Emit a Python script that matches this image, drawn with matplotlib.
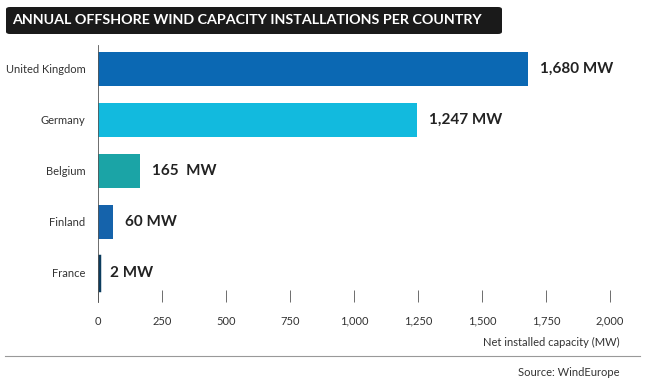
import matplotlib.pyplot as plt
from matplotlib.patches import FancyBboxPatch

countries = ['United Kingdom', 'Germany', 'Belgium', 'Finland', 'France']
capacity = [1680, 1247, 165, 60, 2]
labels = ['1,680 MW', '1,247 MW', '165  MW', '60 MW', '2 MW']
colors = ['#0b68b3', '#12bade', '#1ba4a6', '#1563ab', '#0c3c5e']
ticks = [0, 250, 500, 750, 1000, 1250, 1500, 1750, 2000]
tick_labels = ['0', '250', '500', '750', '1,000', '1,250', '1,500', '1,750', '2,000']

plt.rcParams['font.family'] = ['Lato', 'DejaVu Sans']

fig = plt.figure(figsize=(6.56, 3.85), dpi=100)
W, H = 656, 385
ax = fig.add_axes([98 / W, 1 - 302 / H, 512 / W, 257 / H])

ypos = list(range(len(countries)))
# tiny France bar gets an outline so it stays visible
ax.barh(ypos, capacity, height=0.67, color=colors, edgecolor=colors,
        linewidth=[0, 0, 0, 0, 2.5])
for y, v, t in zip(ypos, capacity, labels):
    ax.text(v + 45, y, t, va='center', ha='left', fontsize=11,
            fontweight='bold', color='#222222')

ax.set_xlim(0, 2000)
ax.set_ylim(4.57, -0.47)
ax.set_yticks(ypos)
ax.set_yticklabels(countries, fontsize=8, color='#333333')
ax.set_xticks(ticks)
ax.set_xticklabels(tick_labels, fontsize=8, color='#333333')
ax.tick_params(axis='y', length=0, pad=9)
ax.tick_params(axis='x', direction='in', length=9, width=0.6, color='#555555', pad=10)
for s in ['top', 'right', 'bottom']:
    ax.spines[s].set_visible(False)
ax.spines['left'].set_color('#555555')
ax.spines['left'].set_linewidth(0.6)

fig.text(620 / W, 1 - 342 / H, 'Net installed capacity (MW)', ha='right', va='center',
         fontsize=8, color='#333333')
fig.add_artist(plt.Line2D([5 / W, 640 / W], [1 - 356 / H, 1 - 356 / H],
                          color='#999999', linewidth=0.8))
fig.text(620 / W, 1 - 373 / H, 'Source: WindEurope', ha='right', va='center',
         fontsize=8, color='#333333')

# title banner
box = FancyBboxPatch((6 / W, 1 - 34 / H), 496 / W, 27 / H,
                     boxstyle='round,pad=0,rounding_size=0.006',
                     transform=fig.transFigure, facecolor='#1a1a1a', edgecolor='none')
fig.add_artist(box)
fig.text(12 / W, 1 - 20.5 / H, 'ANNUAL OFFSHORE WIND CAPACITY INSTALLATIONS PER COUNTRY',
         ha='left', va='center', fontsize=10.3, fontweight='bold', color='white')

fig.savefig('out.png', dpi=100)
